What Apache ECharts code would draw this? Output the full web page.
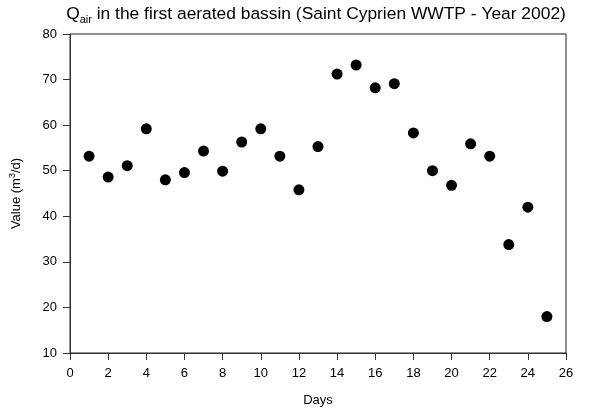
<!DOCTYPE html>
<html>
<head>
<meta charset="utf-8">
<script src="https://cdn.jsdelivr.net/npm/echarts@6/dist/echarts.min.js"></script>
<style>
  html, body { margin: 0; padding: 0; background: #fff; }
  #main { width: 590px; height: 414px; }
</style>
</head>
<body>
<div id="main"></div>
<script>
// days and daily air flow
var days = [1, 2, 3, 4, 5, 6, 7, 8, 9, 10, 11, 12, 13, 14, 15, 16, 17, 18, 19, 20, 21, 22, 23, 24, 25];
var qair = [53.2, 48.6, 51.1, 59.2, 48.0, 49.6, 54.3, 49.9, 56.3, 59.2, 53.2, 45.8, 55.3,
            71.2, 73.2, 68.2, 69.1, 58.3, 50.0, 46.8, 55.9, 53.2, 33.8, 42.0, 18.0];

var font = 'Liberation Sans, Arial, sans-serif';

var points = days.map(function (d, i) {
  return [d, qair[i]];
});

var myChart = echarts.init(document.getElementById('main'));

var option = {
  animation: false,
  backgroundColor: '#fff',
  title: {
    text: '{t|Q}{s|air}{t| in the first aerated bassin (Saint Cyprien WWTP - Year 2002)}',
    left: 311,
    textAlign: 'center',
    top: -2,
    textStyle: {
      rich: {
        t: { fontFamily: font, fontSize: 17.4, fontWeight: 'normal', color: '#000', lineHeight: 22 },
        s: { fontFamily: font, fontSize: 11, fontWeight: 'normal', color: '#000', lineHeight: 11, verticalAlign: 'bottom' }
      }
    }
  },
  grid: {
    left: 70,
    right: 24,
    top: 34,
    bottom: 61,
    show: true,
    borderColor: '#222',
    borderWidth: 1
  },
  xAxis: {
    type: 'value',
    min: 0,
    max: 26,
    interval: 2,
    name: 'Days',
    nameLocation: 'middle',
    nameGap: 41,
    nameTextStyle: { fontFamily: font, fontSize: 13, color: '#000' },
    axisLine: { show: true, lineStyle: { color: '#333' } },
    axisTick: { show: true, inside: false, length: 7, lineStyle: { color: '#333' } },
    axisLabel: { fontFamily: font, fontSize: 13, color: '#000', margin: 14 },
    splitLine: { show: false }
  },
  yAxis: {
    type: 'value',
    min: 10,
    max: 80,
    interval: 10,
    name: '{t|Value (m}{u|3}{t|/d)}',
    nameLocation: 'middle',
    nameGap: 46,
    nameTextStyle: {
      rich: {
        t: { fontFamily: font, fontSize: 13, color: '#000', lineHeight: 16 },
        u: { fontFamily: font, fontSize: 9, color: '#000', lineHeight: 9, verticalAlign: 'top' }
      }
    },
    axisLine: { show: true, lineStyle: { color: '#333' } },
    axisTick: { show: true, inside: false, length: 7, lineStyle: { color: '#333' } },
    axisLabel: { fontFamily: font, fontSize: 13, color: '#000', margin: 13 },
    splitLine: { show: false }
  },
  series: [
    {
      name: 'Qair',
      type: 'scatter',
      symbol: 'circle',
      symbolSize: 11,
      itemStyle: { color: '#000', opacity: 1 },
      data: points
    }
  ]
};

myChart.setOption(option);
</script>
</body>
</html>
